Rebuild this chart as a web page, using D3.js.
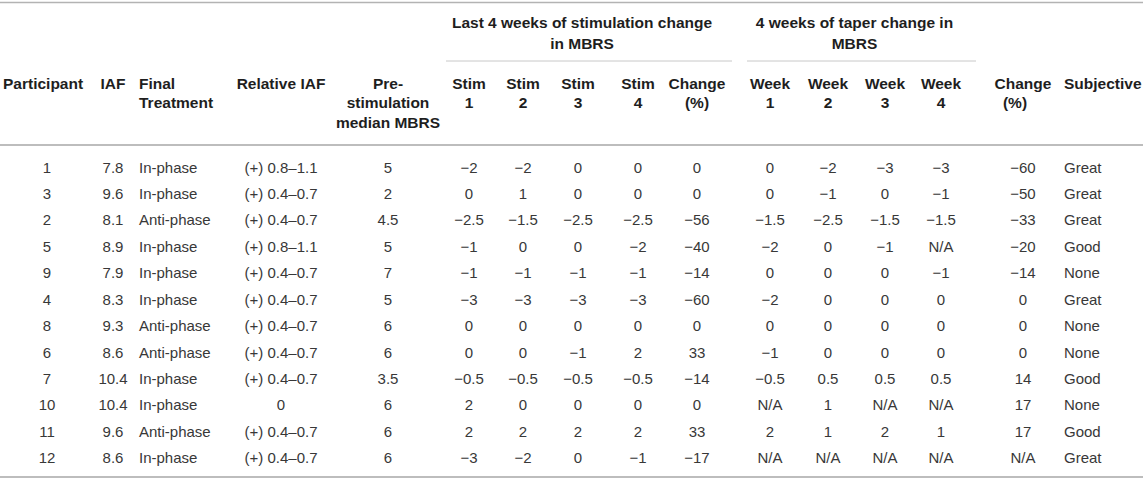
<!DOCTYPE html>
<html>
<head>
<meta charset="utf-8">
<script src="https://cdn.jsdelivr.net/npm/d3@7"></script>
<style>
    html, body { margin: 0; padding: 0; background: #fff; }
    svg { display: block; font-family: "Liberation Sans", Arial, Helvetica, sans-serif; }
</style>
</head>
<body>
<svg id="table"></svg>
<script>

var participants = ["1", "3", "2", "5", "9", "4", "8", "6", "7", "10", "11", "12"];
var iaf = ["7.8", "9.6", "8.1", "8.9", "7.9", "8.3", "9.3", "8.6", "10.4", "10.4", "9.6", "8.6"];
var treatment = ["In-phase", "In-phase", "Anti-phase", "In-phase", "In-phase", "In-phase",
    "Anti-phase", "Anti-phase", "In-phase", "In-phase", "Anti-phase", "In-phase"];
var relativeIaf = ["(+) 0.8–1.1", "(+) 0.4–0.7", "(+) 0.4–0.7", "(+) 0.8–1.1", "(+) 0.4–0.7", "(+) 0.4–0.7",
    "(+) 0.4–0.7", "(+) 0.4–0.7", "(+) 0.4–0.7", "0", "(+) 0.4–0.7", "(+) 0.4–0.7"];
var preMedian = ["5", "2", "4.5", "5", "7", "5", "6", "6", "3.5", "6", "6", "6"];

// Last 4 weeks of stimulation (Stim 1..4) and the change in %
var stimWeeks = [
    ["−2", "−2", "0", "0"],
    ["0", "1", "0", "0"],
    ["−2.5", "−1.5", "−2.5", "−2.5"],
    ["−1", "0", "0", "−2"],
    ["−1", "−1", "−1", "−1"],
    ["−3", "−3", "−3", "−3"],
    ["0", "0", "0", "0"],
    ["0", "0", "−1", "2"],
    ["−0.5", "−0.5", "−0.5", "−0.5"],
    ["2", "0", "0", "0"],
    ["2", "2", "2", "2"],
    ["−3", "−2", "0", "−1"]
];
var stimChange = ["0", "0", "−56", "−40", "−14", "−60", "0", "33", "−14", "0", "33", "−17"];

// 4 weeks of taper (Week 1..4) and the change in %
var taperWeeks = [
    ["0", "−2", "−3", "−3"],
    ["0", "−1", "0", "−1"],
    ["−1.5", "−2.5", "−1.5", "−1.5"],
    ["−2", "0", "−1", "N/A"],
    ["0", "0", "0", "−1"],
    ["−2", "0", "0", "0"],
    ["0", "0", "0", "0"],
    ["−1", "0", "0", "0"],
    ["−0.5", "0.5", "0.5", "0.5"],
    ["N/A", "1", "N/A", "N/A"],
    ["2", "1", "2", "1"],
    ["N/A", "N/A", "N/A", "N/A"]
];
var taperChange = ["−60", "−50", "−33", "−20", "−14", "0", "0", "0", "14", "17", "17", "N/A"];
var subjective = ["Great", "Great", "Great", "Good", "None", "Great", "None", "None", "Good", "None", "Good", "Great"];

// Header texts
var groupHeaders = [
    { lines: ["Last 4 weeks of stimulation change", "in MBRS"], from: "s1", to: "sc" },
    { lines: ["4 weeks of taper change in", "MBRS"], from: "w1", to: "w4" }
];

// Column layout: key, header lines, position and anchor
var columns = [
    { key: "p", head: ["Participant"], x: 47, hx: 3, anchor: "middle", hanchor: "start" },
    { key: "iaf", head: ["IAF"], x: 113, anchor: "middle" },
    { key: "tr", head: ["Final", "Treatment"], x: 139, anchor: "start" },
    { key: "rel", head: ["Relative IAF"], x: 281, anchor: "middle" },
    { key: "pre", head: ["Pre-", "stimulation", "median MBRS"], x: 388, anchor: "middle" },
    { key: "s1", head: ["Stim", "1"], x: 469, anchor: "middle" },
    { key: "s2", head: ["Stim", "2"], x: 523, anchor: "middle" },
    { key: "s3", head: ["Stim", "3"], x: 578, anchor: "middle" },
    { key: "s4", head: ["Stim", "4"], x: 638, anchor: "middle" },
    { key: "sc", head: ["Change", "(%)"], x: 697, anchor: "middle" },
    { key: "w1", head: ["Week", "1"], x: 770, anchor: "middle" },
    { key: "w2", head: ["Week", "2"], x: 828, anchor: "middle" },
    { key: "w3", head: ["Week", "3"], x: 885, anchor: "middle" },
    { key: "w4", head: ["Week", "4"], x: 941, anchor: "middle" },
    { key: "wc", head: ["Change", "(%)"], x: 1023, anchor: "middle" },
    { key: "sub", head: ["Subjective"], x: 1064, anchor: "start" }
];

var width = 1143;
var height = 482;

// Build one record per row from the column arrays
var rows = participants.map(function (d, i) {
    return [d, iaf[i], treatment[i], relativeIaf[i], preMedian[i]]
        .concat(stimWeeks[i], [stimChange[i]], taperWeeks[i], [taperChange[i], subjective[i]]);
});

var svg = d3.select("#table")
    .attr("width", width)
    .attr("height", height);

// Scales for the table: columns by key, rows by index
var x = d3.scaleOrdinal()
    .domain(columns.map(function (c) { return c.key; }))
    .range(columns.map(function (c) { return c.x; }));

var y = d3.scaleBand()
    .domain(d3.range(rows.length))
    .range([154, 471]);

var headLine = d3.scaleLinear().domain([0, 1]).range([83, 102.5]);
var groupLine = d3.scaleLinear().domain([0, 1]).range([22, 43]);

// Horizontal rules
var rules = [
    { y: 2.5, x1: 0, x2: width, w: 1.6, c: "#b3b3b3" },
    { y: 145, x1: 0, x2: width, w: 2, c: "#bdbdbd" },
    { y: 477, x1: 0, x2: width, w: 2, c: "#bdbdbd" }
];
svg.selectAll("line.rule")
    .data(rules)
    .enter().append("line")
    .attr("class", "rule")
    .attr("x1", function (d) { return d.x1; })
    .attr("x2", function (d) { return d.x2; })
    .attr("y1", function (d) { return d.y; })
    .attr("y2", function (d) { return d.y; })
    .attr("stroke", function (d) { return d.c; })
    .attr("stroke-width", function (d) { return d.w; });

// Group headers with the thin rule under them
var groupLeft = function (d) { return x(d.from) - 23; };
var groupRight = function (d) { return x(d.to) + 35; };

var groups = svg.selectAll("g.group")
    .data(groupHeaders)
    .enter().append("g")
    .attr("class", "group");

groups.append("line")
    .attr("x1", groupLeft)
    .attr("x2", groupRight)
    .attr("y1", 61)
    .attr("y2", 61)
    .attr("stroke", "#c8c8c8")
    .attr("stroke-width", 1);

groups.append("text")
    .attr("x", function (d) { return (groupLeft(d) + groupRight(d)) / 2 - 7; })
    .attr("font-size", "15.5px")
    .attr("font-weight", "bold")
    .attr("fill", "#1e1e1e")
    .attr("text-anchor", "middle")
    .selectAll("tspan")
    .data(function (d) { return d.lines; })
    .enter().append("tspan")
    .attr("x", function () { return this.parentNode.getAttribute("x"); })
    .attr("y", function (d, i) { return groupLine(i); })
    .attr("dy", "0.36em")
    .text(function (d) { return d; });

// Column headers
var heads = svg.selectAll("text.head")
    .data(columns)
    .enter().append("text")
    .attr("class", "head")
    .attr("font-size", "15.5px")
    .attr("font-weight", "bold")
    .attr("fill", "#1e1e1e")
    .attr("text-anchor", function (d) { return d.hanchor || d.anchor; });

heads.selectAll("tspan")
    .data(function (d) {
        return d.head.map(function (t, i) {
            var hx = d.hx !== undefined ? d.hx : x(d.key);
            // second "(%)" line in the last change column sits a little left
            if (d.key === "wc" && i === 1) hx = hx - 8;
            return { text: t, i: i, x: hx };
        });
    })
    .enter().append("tspan")
    .attr("x", function (d) { return d.x; })
    .attr("y", function (d) { return headLine(d.i); })
    .attr("dy", "0.36em")
    .text(function (d) { return d.text; });

// Table body, one text per cell
var body = svg.selectAll("g.row")
    .data(rows)
    .enter().append("g")
    .attr("class", "row")
    .attr("transform", function (d, i) { return "translate(0," + (y(i) + y.bandwidth() / 2) + ")"; });

body.selectAll("text")
    .data(function (d) { return d; })
    .enter().append("text")
    .attr("x", function (d, j) { return x(columns[j].key); })
    .attr("dy", "0.36em")
    .attr("text-anchor", function (d, j) { return columns[j].anchor; })
    .attr("font-size", "15px")
    .attr("fill", "#383838")
    .text(function (d) { return d; });

</script>
</body>
</html>
